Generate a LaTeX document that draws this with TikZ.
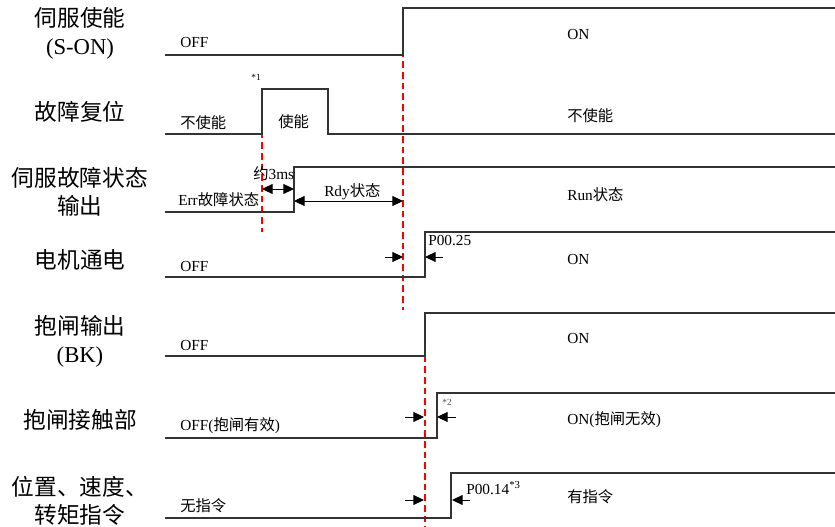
\documentclass[tikz,border=0pt]{standalone}
\usepackage{fontspec}
\setmainfont{Liberation Serif}
\newfontfamily\cjk{Noto Sans CJK SC}
\newcommand{\zh}[1]{{\cjk #1}}
\usetikzlibrary{arrows.meta}

\begin{document}
\begin{tikzpicture}[
  x=0.75pt, y=-0.75pt, >={Triangle[length=8pt,width=7.5pt]},
  sig/.style={black!80, line width=0.8pt},
  guide/.style={red, line width=0.8pt, dash pattern=on 5pt off 3pt},
  dim/.style={black, line width=0.7pt},
  lab/.style={font=\fontsize{17}{21}\selectfont, align=center, inner sep=0pt},
  txt/.style={font=\fontsize{11.5}{13}\selectfont, anchor=west, inner sep=0pt},
  note/.style={font=\fontsize{7}{8}\selectfont, inner sep=0pt}]
\useasboundingbox (0,0) rectangle (835,527);

% signal names
\node[lab](sonL) at (80,33){\zh{伺服使能}\\(S-ON)};
\node[lab](rstL) at (80,112){\zh{故障复位}};
\node[lab](errL) at (80,192){\zh{伺服故障状态}\\\zh{输出}};
\node[lab](motL) at (80,260){\zh{电机通电}};
\node[lab](bkL) at (80,341){\zh{抱闸输出}\\(BK)};
\node[lab](ctL) at (80,420){\zh{抱闸接触部}};
\node[lab](cmdL) at (80,501){\zh{位置、速度、}\\\zh{转矩指令}};

% timing guides
\draw[guide] (262,89) -- (262,232);
\draw[guide] (403,40) -- (403,310);
\draw[guide] (425,313) -- (425,527);

% waveforms
\draw[sig] (165,55) -- (403,55) -- (403,8) -- (835,8);
\draw[sig] (165,134) -- (262,134) -- (262,89) -- (328,89) -- (328,134) -- (835,134);
\draw[sig] (165,212) -- (294,212) -- (294,167) -- (835,167);
\draw[sig] (165,277) -- (425,277) -- (425,232) -- (835,232);
\draw[sig] (165,356) -- (425,356) -- (425,313) -- (835,313);
\draw[sig] (165,438) -- (437,438) -- (437,393) -- (835,393);
\draw[sig] (165,518) -- (451,518) -- (451,473) -- (835,473);

% state texts
\node[txt](sonOff) at (180,43){OFF};
\node[txt](sonOn) at (567,35){ON};
\node[txt](rstOff) at (180,123){\zh{不使能}};
\node[txt](rstOn) at (278,122){\zh{使能}};
\node[txt](rstOff2) at (567,116){\zh{不使能}};
\node[note](n1) at (256,77){*1};
\node[txt](errErr) at (178,200){Err\zh{故障状态}};
\node[txt](errT) at (253,174){\zh{约}3ms};
\node[txt](errRdy) at (324,192){Rdy\zh{状态}};
\node[txt](errRun) at (567,195){Run\zh{状态}};
\node[txt](motOff) at (180,266){OFF};
\node[txt](motP) at (428,241){P00.25};
\node[txt](motOn) at (567,259){ON};
\node[txt](bkOff) at (180,345){OFF};
\node[txt](bkOn) at (567,338){ON};
\node[txt](ctOff) at (180,426){OFF(\zh{抱闸有效})};
\node[txt](ctOn) at (567,420){ON(\zh{抱闸无效})};
\node[note, black!70](n2) at (447,402){*2};
\node[txt](cmdOff) at (180,506){\zh{无指令}};
\node[txt](cmdP) at (466,488){P00.14\textsuperscript{*3}};
\node[txt](cmdOn) at (567,497){\zh{有指令}};

% delay marks
\coordinate (t3a) at (262,189); \coordinate (t3b) at (294,189);
\coordinate (rdA) at (294,201); \coordinate (rdB) at (403,201);
\coordinate (mA) at (385,257); \coordinate (mB) at (403,257);
\coordinate (mC) at (443,257); \coordinate (mD) at (425,257);
\coordinate (cA) at (405,417); \coordinate (cB) at (424,417);
\coordinate (cC) at (456,417); \coordinate (cD) at (437,417);
\coordinate (pA) at (405,500); \coordinate (pB) at (424,500);
\coordinate (pC) at (470,500); \coordinate (pD) at (452,500);
\draw[dim,<->](t3a)--(t3b);
\draw[dim,<->](rdA)--(rdB);
\draw[dim,->](mA)--(mB);\draw[dim,->](mC)--(mD);
\draw[dim,->](cA)--(cB);\draw[dim,->](cC)--(cD);
\draw[dim,->](pA)--(pB);\draw[dim,->](pC)--(pD);
\end{tikzpicture}
\end{document}
